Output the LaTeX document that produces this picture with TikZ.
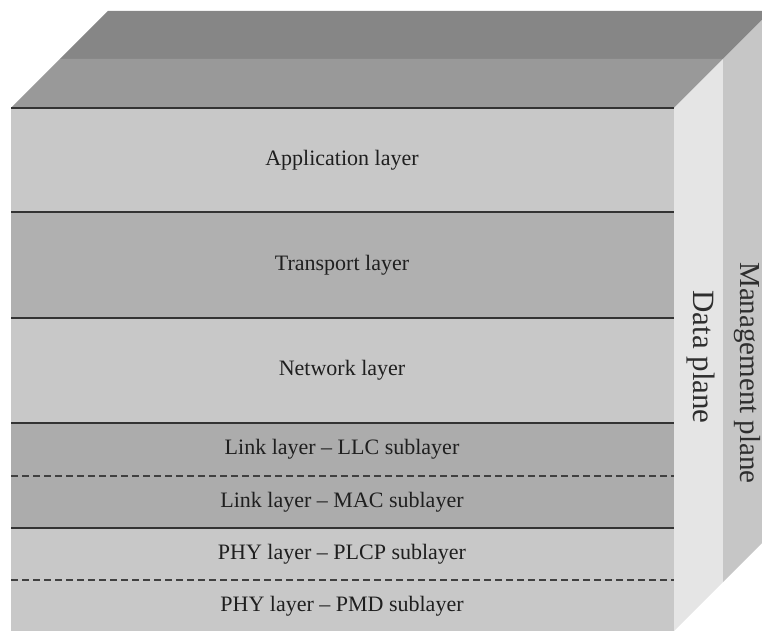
\documentclass[tikz,border=0pt]{standalone}
\usepackage{fontspec}
\setmainfont{Liberation Serif}
\definecolor{layerlite}{HTML}{C8C8C8}
\definecolor{layermid}{HTML}{B0B0B0}
\definecolor{layerdark}{HTML}{ACACAC}
\definecolor{toplite}{HTML}{999999}
\definecolor{topdark}{HTML}{868686}
\definecolor{dataface}{HTML}{E5E5E5}
\definecolor{mgmtface}{HTML}{C6C6C6}
\tikzset{
every picture/.style={
line width=1.2pt
}}

\begin{document}
\begin{tikzpicture}[x=1pt, y=-1pt,
label/.style = {font=\fontsize{22}{26}\selectfont, text=black!88},
plane/.style = {font=\fontsize{29}{34}\selectfont, text=black!82, rotate=-90},
sep/.style = {draw=black!80},
subsep/.style = {draw=black!75, dash pattern=on 7pt off 4pt}]
\useasboundingbox (0,0) rectangle (762,631);
\clip (0,0) rectangle (762,631);

% top faces
\fill[topdark] (60,59) -- (723,59) -- (771,11) -- (108,11) -- cycle;
\fill[toplite] (11,108) -- (674,108) -- (723,59) -- (60,59) -- cycle;

% side faces
\fill[dataface] (674,108) -- (723,59) -- (723,582) -- (674,631) -- cycle;
\fill[mgmtface] (723,59) -- (771,11) -- (771,534) -- (723,582) -- cycle;

% front face
\fill[layerlite] (11,108) rectangle (674,212);
\fill[layermid] (11,212) rectangle (674,318);
\fill[layerlite] (11,318) rectangle (674,423);
\fill[layerdark] (11,423) rectangle (674,528);
\fill[layerlite] (11,528) rectangle (674,631);

\draw[sep] (11,108) -- (674,108);
\draw[sep] (11,212) -- (674,212);
\draw[sep] (11,318) -- (674,318);
\draw[sep] (11,423) -- (674,423);
\draw[subsep] (11,476) -- (674,476);
\draw[sep] (11,528) -- (674,528);
\draw[subsep] (11,580) -- (674,580);

\node[label] (app) at (342,160) {Application layer};
\node[label] (trans) at (342,265) {Transport layer};
\node[label] (net) at (342,370) {Network layer};
\node[label] (llc) at (342,449) {Link layer -- LLC sublayer};
\node[label] (mac) at (342,502) {Link layer -- MAC sublayer};
\node[label] (plcp) at (342,554) {PHY layer -- PLCP sublayer};
\node[label] (pmd) at (342,606) {PHY layer -- PMD sublayer};

\node[plane, font=\fontsize{31}{36}\selectfont] (data) at (701,357) {Data plane};
\node[plane] (mgmt) at (747,373) {Management plane};
\end{tikzpicture}
\end{document}
